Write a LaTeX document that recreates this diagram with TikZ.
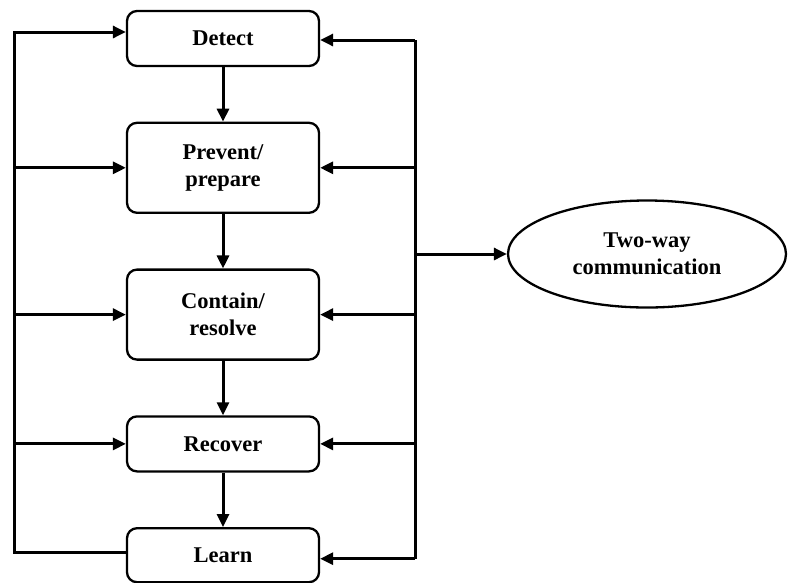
\documentclass[tikz,border=0pt]{standalone}
\usepackage{fontspec}
\setmainfont{Liberation Serif}
\usepackage{tikz}
\usetikzlibrary{arrows.meta,positioning,shapes.geometric}

\begin{document}
\begin{tikzpicture}[x=1pt,y=-1pt,>={Triangle[length=13pt,width=12pt]},line width=3pt,node distance=54.5pt,
  font=\bfseries\fontsize{22.5}{27}\selectfont]
 \tikzstyle{stage}=[draw,line width=2.3pt,rounded corners=10pt,minimum width=192pt,align=center]
 \tikzstyle{arr}=[->]
   \useasboundingbox (0,0) rectangle (789,582);

   \node[stage,minimum height=55pt] (detect) at (223,38.5) {Detect};
   \node[stage,minimum height=90pt] (prevent) [below=of detect] {Prevent/\\prepare};
   \node[stage,minimum height=90pt] (contain) [below=of prevent] {Contain/\\resolve};
   \node[stage,minimum height=55pt] (recover) [below=of contain] {Recover};
   \node[stage,minimum height=54pt] (learn) [below=of recover] {Learn};
   \node[draw,ellipse,line width=2.3pt,minimum width=278pt,minimum height=107pt,align=center] (comm) at (647,254) {Two-way\\communication};

   % left loop
   \coordinate (lx) at (14,0);
   \coordinate (din) at ([yshift=6.5pt]detect.west);
   \coordinate (lout) at ([yshift=2.5pt]learn.west);
   \draw[arr] (lout) -- (lx |- lout) -- (lx |- din) -- (din);
   \foreach \n in {prevent,contain,recover}
     \draw[arr] (lx |- \n.west) -- (\n.west);

   % right loop
   \coordinate (rx) at (415,0);
   \coordinate (dout) at ([yshift=-1.5pt]detect.east);
   \coordinate (lin) at ([yshift=-3.5pt]learn.east);
   \draw (rx |- dout) -- (rx |- lin);
   \draw[arr] (rx |- dout) -- (dout);
   \draw[arr] (rx |- lin) -- (lin);
   \foreach \n in {prevent,contain,recover}
     \draw[arr] (rx |- \n.east) -- (\n.east);
   \draw[arr] (rx |- comm.west) -- (comm.west);

   % main chain
   \draw[arr] (detect) -- (prevent);
   \draw[arr] (prevent) -- (contain);
   \draw[arr] (contain) -- (recover);
   \draw[arr] (recover) -- (learn);
\end{tikzpicture}
\end{document}
